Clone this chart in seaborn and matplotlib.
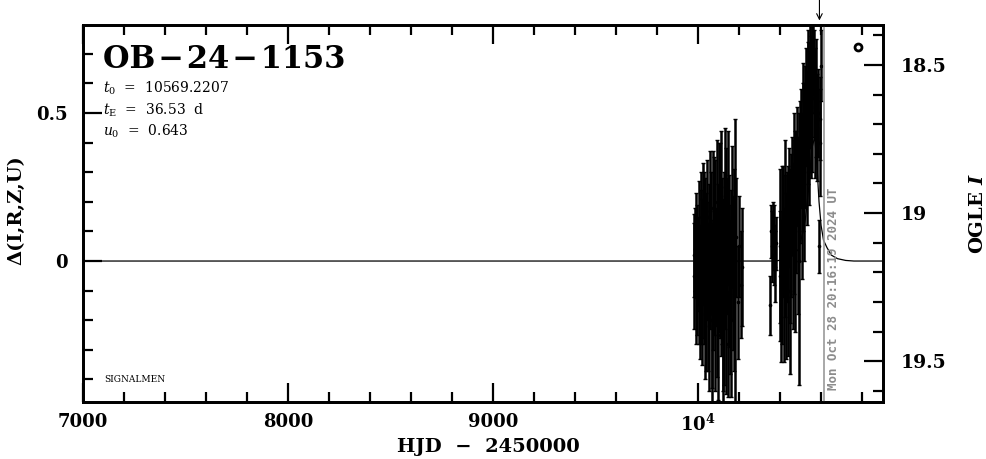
import matplotlib
matplotlib.use("Agg")
import matplotlib.pyplot as plt
import matplotlib.ticker as mticker
import pandas as pd
import seaborn as sns

# OGLE photometry, first season (HJD - 2450000, delta mag, error)
hjd_s1 = [9978, 9981, 9985, 9988, 9992, 9995, 9999, 10003, 10006, 10009,
          10012, 10015, 10018, 10021, 10024, 10027, 10030, 10033, 10036, 10039,
          10042, 10045, 10048, 10051, 10054, 10057, 10060, 10063, 10066, 10068,
          10072, 10075, 10078, 10081, 10084, 10087, 10090, 10093, 10096, 10099,
          10102, 10105, 10108, 10111, 10114, 10117, 10120, 10122, 10126, 10129,
          10132, 10135, 10138, 10141, 10144, 10147, 10150, 10153, 10156, 10159,
          10162, 10165, 10169, 10173, 10176, 10180, 10186, 10193, 10200, 10207, 10214]
dmag_s1 = [0.02, -0.05, 0.04, -0.12, 0.06, -0.03, 0.00, -0.08, 0.05, -0.15,
           0.10, -0.02, 0.03, -0.10, 0.12, -0.05, 0.02, -0.18, 0.08, -0.07,
           0.00, 0.15, -0.12, 0.04, -0.22, 0.10, -0.03, 0.06, -0.15, -0.20,
           0.18, -0.08, 0.05, -0.20, 0.12, -0.02, 0.20, -0.12, 0.03, -0.25,
           0.08, -0.05, 0.15, -0.10, 0.22, 0.00, -0.18, -0.15, -0.06, 0.25,
           -0.02, 0.12, -0.15, 0.05, -0.28, 0.18, -0.05, 0.08, -0.12, 0.02,
           -0.20, 0.15, -0.04, 0.10, -0.10, 0.00, 0.08, -0.14, 0.05, -0.08, -0.02]
err_s1 = [0.14, 0.18, 0.14, 0.16, 0.17, 0.22, 0.15, 0.20, 0.22, 0.18,
          0.20, 0.26, 0.18, 0.25, 0.21, 0.23, 0.28, 0.22, 0.20, 0.30,
          0.20, 0.19, 0.25, 0.22, 0.22, 0.27, 0.20, 0.24, 0.28, 0.32,
          0.19, 0.22, 0.30, 0.24, 0.22, 0.20, 0.21, 0.27, 0.23, 0.22,
          0.32, 0.21, 0.25, 0.22, 0.22, 0.28, 0.26, 0.36, 0.36, 0.20,
          0.21, 0.26, 0.30, 0.23, 0.18, 0.26, 0.24, 0.21, 0.26, 0.22,
          0.26, 0.24, 0.26, 0.21, 0.27, 0.48, 0.20, 0.19, 0.17, 0.18, 0.20]

# second season, rising towards the peak
hjd_s2 = [10352, 10356, 10360, 10364, 10368, 10372, 10376, 10380,
          10398, 10402, 10406, 10410, 10414, 10418, 10422, 10426, 10430, 10434,
          10438, 10442, 10446, 10450, 10454, 10458, 10462, 10466, 10470, 10474,
          10478, 10482, 10486, 10490, 10494, 10498, 10502, 10506, 10510, 10514,
          10518, 10522, 10526, 10530, 10534, 10538, 10542, 10546, 10550, 10554,
          10558, 10562, 10566, 10570, 10575, 10580, 10585, 10590, 10593, 10597, 10600]
dmag_s2 = [-0.15, 0.10, 0.05, 0.12, 0.02, 0.08, -0.02, 0.06,
           -0.05, 0.05, -0.10, 0.02, 0.10, -0.08, 0.05, 0.15, -0.05, 0.08,
           0.00, 0.18, 0.05, -0.10, 0.12, 0.22, 0.05, 0.15, 0.28, 0.10,
           0.20, 0.32, 0.12, 0.25, 0.00, 0.30, 0.38, 0.22, 0.35, 0.45,
           0.30, 0.42, 0.52, 0.38, 0.50, 0.58, 0.45, 0.60, 0.52, 0.65,
           0.55, 0.68, 0.60, 0.50, 0.55, 0.45, 0.50, 0.05, 0.40, 0.48, 0.66]
err_s2 = [0.10, 0.09, 0.12, 0.08, 0.10, 0.11, 0.12, 0.09,
          0.22, 0.26, 0.24, 0.30, 0.22, 0.26, 0.24, 0.26, 0.28, 0.22,
          0.32, 0.20, 0.26, 0.28, 0.24, 0.20, 0.28, 0.26, 0.22, 0.34,
          0.24, 0.20, 0.30, 0.25, 0.42, 0.24, 0.20, 0.28, 0.25, 0.22,
          0.30, 0.24, 0.20, 0.26, 0.24, 0.20, 0.26, 0.22, 0.24, 0.15,
          0.25, 0.12, 0.18, 0.22, 0.20, 0.18, 0.15, 0.09, 0.18, 0.14, 0.12]

# model curve
model_hjd = [7000, 10380, 10450, 10490, 10520, 10540, 10555, 10569, 10580,
             10590, 10600, 10612, 10629, 10650, 10680, 10720, 10760, 10902]
model_dmag = [0.0, 0.0, 0.01, 0.04, 0.12, 0.25, 0.38, 0.42, 0.32,
              0.20, 0.12, 0.07, 0.045, 0.02, 0.008, 0.002, 0.0, 0.0]

event_name = "OB\u200a\u2212\u200a24\u200a\u2212\u200a1153"
param_lines = [r"$t_0$  =  10569.2207", r"$t_{\rm E}$  =  36.53  d", r"$u_0$  =  0.643"]
base_I = 19.162
now_hjd = 10612.3
now_label = "Mon Oct 28 20:16:19 2024 UT"
arrow_hjd = 10592

s1 = pd.DataFrame({"hjd": hjd_s1, "dmag": dmag_s1, "err": err_s1})
s2 = pd.DataFrame({"hjd": hjd_s2, "dmag": dmag_s2, "err": err_s2})
phot = pd.concat([s1, s2], ignore_index=True)

sns.set_style("ticks")
plt.rcParams["font.family"] = ["DejaVu Serif"]
plt.rcParams["mathtext.fontset"] = "dejavuserif"
plt.rcParams.update({"axes.edgecolor": "black", "xtick.color": "black",
                     "ytick.color": "black", "text.color": "black",
                     "axes.labelcolor": "black"})

fig = plt.figure(figsize=(9.86, 4.59), dpi=100)
ax = fig.add_axes([83 / 986, 1 - 402 / 459, 800 / 986, 377 / 459])

xlo, xhi = 7000, 10902
ylo, yhi = -0.476, 0.797

# model underneath the data
sns.lineplot(x=model_hjd, y=model_dmag, color="black", lw=0.9, ax=ax, zorder=2)
ax.errorbar(phot["hjd"], phot["dmag"], yerr=phot["err"], fmt="none",
            ecolor="black", elinewidth=1.8, capsize=1.6, capthick=1.0, zorder=3)
sns.scatterplot(data=phot, x="hjd", y="dmag", color="black", s=7,
                linewidth=0, ax=ax, zorder=4)

# current time marker
ax.axvline(now_hjd, color="#999999", lw=1.2, zorder=5)
ax.annotate(now_label, xy=(now_hjd, 0), xycoords=("data", "axes fraction"),
            xytext=(2.5, 8.5), textcoords="offset points", rotation=90,
            ha="left", va="bottom", color="#8c8c8c", fontsize=9,
            fontweight="bold", family="DejaVu Sans Mono")
ax.annotate("", xy=(arrow_hjd, 1.012), xycoords=("data", "axes fraction"),
            xytext=(arrow_hjd, 1.068), textcoords=("data", "axes fraction"),
            arrowprops=dict(arrowstyle="->", lw=0.8, color="black",
                            shrinkA=0, shrinkB=0),
            annotation_clip=False)

# dataset symbol
ax.plot([10780], [0.723], marker="o", ms=5, mfc="white", mec="black", mew=2,
        ls="none", zorder=6)

ax.set_xlim(xlo, xhi)
ax.set_ylim(ylo, yhi)
ax.set_xlabel("")
ax.set_ylabel("")

ax.xaxis.set_major_locator(mticker.MultipleLocator(1000))
ax.xaxis.set_minor_locator(mticker.MultipleLocator(200))
ax.xaxis.set_major_formatter(mticker.FuncFormatter(
    lambda v, p: r"$\mathbf{10^4}$" if abs(v - 10000) < 1 else f"{int(v)}"))
ax.yaxis.set_major_locator(mticker.MultipleLocator(0.5))
ax.yaxis.set_minor_locator(mticker.MultipleLocator(0.1))
ax.yaxis.set_major_formatter(mticker.FuncFormatter(
    lambda v, p: "0" if abs(v) < 1e-9 else f"{v:g}"))

ax.tick_params(which="both", direction="in", top=True, right=False,
               width=1.6, labelsize=13)
ax.tick_params(axis="y", pad=11)
ax.tick_params(axis="x", pad=8)
ax.tick_params(which="major", length=14)
ax.tick_params(which="minor", length=7)
for lab in ax.get_xticklabels() + ax.get_yticklabels():
    lab.set_fontweight("bold")

ax2 = ax.twinx()
ax2.set_ylim(base_I - ylo, base_I - yhi)
ax2.yaxis.set_major_locator(mticker.MultipleLocator(0.5))
ax2.yaxis.set_minor_locator(mticker.MultipleLocator(0.1))
ax2.yaxis.set_major_formatter(mticker.FuncFormatter(lambda v, p: f"{v:g}"))
ax2.tick_params(which="both", direction="in", width=1.6, labelsize=13.5, pad=13)
ax2.tick_params(which="major", length=14)
ax2.tick_params(which="minor", length=7)
for lab in ax2.get_yticklabels():
    lab.set_fontweight("bold")

for a in (ax, ax2):
    for sp in a.spines.values():
        sp.set_linewidth(2)
        sp.set_visible(True)
        sp.set_color("black")

# labels
ax.text(0.025, 0.886, event_name, transform=ax.transAxes, fontsize=22,
        fontweight="bold", ha="left", va="baseline")
for line, yy in zip(param_lines, [0.820, 0.762, 0.707]):
    ax.text(0.025, yy, line, transform=ax.transAxes, fontsize=10,
            ha="left", va="baseline")
ax.text(0.027, 0.052, "SIGNALMEN", transform=ax.transAxes, fontsize=6.5,
        ha="left", va="baseline")

fig.text(488 / 986, 1 - 447 / 459, "HJD  \u2212  2450000", ha="center",
         va="center", fontsize=14, fontweight="bold")
fig.text(16 / 986, 1 - 210 / 459, "\u0394(I,R,Z,U)", ha="center", va="center",
         rotation=90, fontsize=14, fontweight="bold")
fig.text(978 / 986, 1 - 214 / 459, r"OGLE $\mathbfit{I}$", ha="center",
         va="center", rotation=90, fontsize=14, fontweight="bold")

fig.savefig("out.png", dpi=100)
